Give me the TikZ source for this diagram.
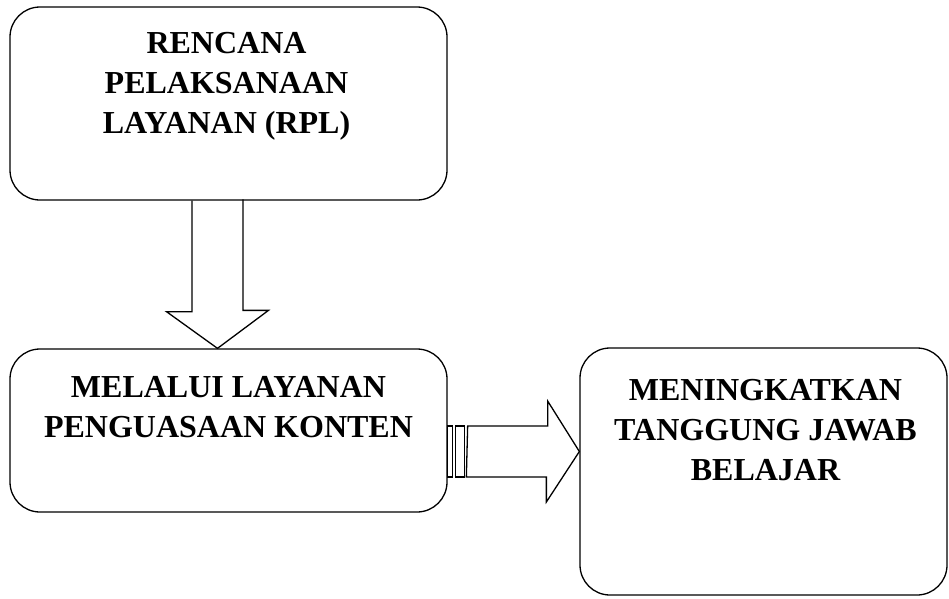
\documentclass[tikz,border=0pt]{standalone}
\usepackage{fontspec}
\setmainfont{Liberation Serif}
\usepackage{tikz}
\usetikzlibrary{calc}

\begin{document}
\begin{tikzpicture}[x=1pt, y=-1pt,
    box/.style={draw, line width=1.3pt, rounded corners=30pt, inner sep=0pt},
    boxtext/.style={anchor=north, inner sep=0pt, align=center,
        font=\fontsize{32}{40}\selectfont\bfseries},
    blockarrow/.style={draw, line width=1.3pt, line join=miter}]
    \useasboundingbox (0,0) rectangle (949,598);

    % Draw the boxes
    \node[box, minimum width=437pt, minimum height=193pt] (rpl) at (228.5,103.5) {};
    \node[box, minimum width=437pt, minimum height=163pt] (layanan) at (228.5,430.5) {};
    \node[box, minimum width=367pt, minimum height=247pt] (hasil) at (763.5,471.5) {};

    % Texts in the boxes
    \node[boxtext] (rpl text) at ($(rpl.north)+(-2,26)$) {RENCANA\\PELAKSANAAN\\LAYANAN (RPL)};
    \node[boxtext] (layanan text) at ($(layanan.north)+(0,28)$) {MELALUI LAYANAN\\PENGUASAAN KONTEN};
    \node[boxtext] (hasil text) at ($(hasil.north)+(2,32)$) {MENINGKATKAN\\TANGGUNG JAWAB\\BELAJAR};

    % Down arrow from RPL
    \coordinate (down tip) at ($(layanan.north)+(-11,0)$);
    \draw[blockarrow] ($(rpl.south)+(-36.5,0)$) -- ++(0,111) -- ++(-25.5,0) -- (down tip)
        -- ++(51,-38) -- ++(-25.5,0) -- ++(0,-111);

    % Striped arrow to the right
    \coordinate (right tip) at ($(hasil.west |- layanan.east)+(0,21)$);
    \draw[blockarrow] ($(layanan.east)+(0,-4.5)$) rectangle ++(5,51);
    \draw[blockarrow] ($(layanan.east)+(7.5,-4.5)$) rectangle ++(9,51);
    \draw[blockarrow] ($(layanan.east)+(20,-4.5)$) -- ++(80,0) -- ++(0,-25) -- (right tip)
        -- ++(-33,50.5) -- ++(0,-25) -- ++(-80,0) -- cycle;
\end{tikzpicture}
\end{document}
